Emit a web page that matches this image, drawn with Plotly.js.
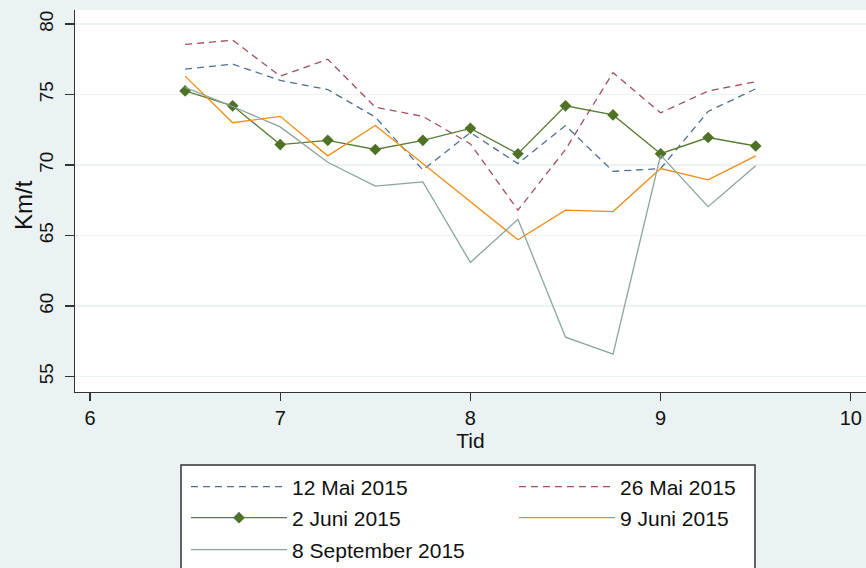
<!DOCTYPE html>
<html>
<head>
<meta charset="utf-8">
<script src="https://cdn.plot.ly/plotly-3.0.1.min.js"></script>
<style>html,body{margin:0;padding:0;background:#eaf2f3;}#chart{width:866px;height:568px;}</style>
</head>
<body>
<div id="chart"></div>
<script>
const tid = [6.5, 6.75, 7, 7.25, 7.5, 7.75, 8, 8.25, 8.5, 8.75, 9, 9.25, 9.5];
const mai12 = [76.8, 77.15, 76.0, 75.35, 73.4, 69.65, 72.3, 70.1, 72.8, 69.55, 69.75, 73.8, 75.4];
const mai26 = [78.55, 78.85, 76.3, 77.5, 74.1, 73.45, 71.5, 66.8, 71.1, 76.55, 73.7, 75.25, 75.9];
const juni2 = [75.25, 74.2, 71.45, 71.75, 71.1, 71.75, 72.6, 70.8, 74.2, 73.55, 70.8, 71.95, 71.35];
const juni9 = [76.3, 73.0, 73.45, 70.65, 72.8, 70.1, 67.4, 64.7, 66.8, 66.7, 69.75, 68.95, 70.65];
const sep8 = [75.5, 74.15, 72.7, 70.2, 68.5, 68.8, 63.1, 66.15, 57.8, 56.6, 70.7, 67.05, 69.95];
const names = ["12 Mai 2015", "26 Mai 2015", "2 Juni 2015", "9 Juni 2015", "8 September 2015"];
const yTicks = [55, 60, 65, 70, 75, 80];
const xTicks = [6, 7, 8, 9, 10];
const yTitle = "Km/t";
const xTitle = "Tid";

const W = 866, H = 568;
const REG = "Liberation Sans, Arial, sans-serif";
const legFont = {family: REG, size: 21, color: "#111"};
function leg(xPix, yPix) {
  return {orientation: "v", xref: "container", yref: "container",
    x: xPix / W, xanchor: "left", y: 1 - yPix / H, yanchor: "middle",
    bgcolor: "rgba(0,0,0,0)", borderwidth: 0, font: legFont,
    itemwidth: 96, traceorder: "normal"};
}

const traces = [
  {x: tid, y: mai12, name: names[0], mode: "lines", line: {color: "#4d6f93", width: 1.3, dash: "7px,5px"}, legend: "legend"},
  {x: tid, y: mai26, name: names[1], mode: "lines", line: {color: "#a14f5b", width: 1.3, dash: "7px,5px"}, legend: "legend2"},
  {x: tid, y: juni2, name: names[2], mode: "lines+markers", line: {color: "#587d31", width: 1.3},
    marker: {symbol: "diamond", size: 9, color: "#4f7326"}, legend: "legend3"},
  {x: tid, y: juni9, name: names[3], mode: "lines", line: {color: "#f08c14", width: 1.3}, legend: "legend4"},
  {x: tid, y: sep8, name: names[4], mode: "lines", line: {color: "#8aa49b", width: 1.3}, legend: "legend5"}
];

const layout = {
  width: W, height: H,
  paper_bgcolor: "#eaf2f3", plot_bgcolor: "#ffffff",
  margin: {l: 75, r: 0, t: 10, b: 176, autoexpand: false},
  font: {family: REG, color: "#111"},
  showlegend: true,
  xaxis: {range: [5.921, 10.08], tickvals: xTicks, ticktext: xTicks.map(String),
    ticks: "outside", ticklen: 8, tickwidth: 1.2, tickcolor: "#333",
    showline: true, linecolor: "#333", linewidth: 1.2, showgrid: false, zeroline: false,
    tickfont: {family: REG, size: 20}, title: {text: xTitle, font: {family: REG, size: 21}, standoff: 2}},
  yaxis: {range: [53.91, 80.99], tickvals: yTicks, ticktext: yTicks.map(String),
    ticks: "outside", ticklen: 9, tickwidth: 1.2, tickcolor: "#333", tickangle: -90, ticklabelstandoff: 4,
    showline: true, linecolor: "#333", linewidth: 1.2, showgrid: true, gridcolor: "#eaf2f3", gridwidth: 1.5,
    zeroline: false, tickfont: {family: REG, size: 19}},
  annotations: [{text: yTitle, textangle: -90, xref: "paper", yref: "paper",
    x: (23 - 75) / 791, y: (392 - 205) / 382, xanchor: "center", yanchor: "middle",
    showarrow: false, font: {family: REG, size: 24, color: "#111"}}],
  legend: leg(186, 487),
  legend2: leg(514, 487),
  legend3: leg(186, 518),
  legend4: leg(514, 518),
  legend5: leg(186, 550),
  shapes: [{type: "rect", xref: "paper", yref: "paper", layer: "above",
    x0: (181 - 75) / 791, x1: (755 - 75) / 791,
    y0: (392 - 580) / 382, y1: (392 - 465) / 382,
    fillcolor: "#ffffff", line: {color: "#333", width: 1.5}}]
};

Plotly.newPlot("chart", traces, layout, {displayModeBar: false, staticPlot: true});
</script>
</body>
</html>
